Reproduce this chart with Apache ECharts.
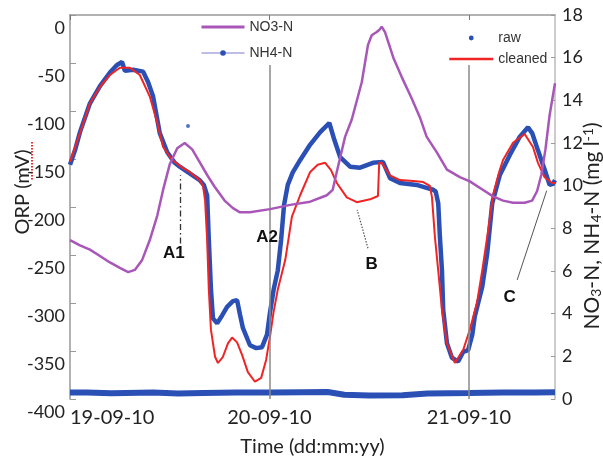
<!DOCTYPE html>
<html><head><meta charset="utf-8">
<script src="https://cdn.jsdelivr.net/npm/echarts@6/dist/echarts.min.js"></script>
<style>html,body{margin:0;padding:0;background:#fff}#c{width:603px;height:456px}</style>
</head><body><div id="c"></div>
<script>
// x values are hours since 19-09-10 00:00
const tickHours = [0, 24, 48];
const dateLabels = ['19-09-10', '20-09-10', '21-09-10'];
const xMaxHours = 58.35;

// ORP raw (mV)
const rawORP = [[0,-156],[0.6,-141],[1.2,-122],[2.4,-92],[3.6,-74],[4.8,-60],[5.65,-52],[6.26,-49],[6.6,-58],[7.6,-57],[8.8,-59],[9.4,-70],[10.0,-85],[10.8,-123],[11.7,-143],[12.6,-154],[13.2,-158],[14.4,-165],[15.6,-172],[16.1,-177],[16.5,-188],[16.7,-234],[16.96,-286],[17.2,-316],[17.7,-321],[18.3,-313],[18.9,-304],[19.6,-298],[20.1,-297],[20.45,-312],[20.8,-326],[21.65,-344],[22.4,-347],[23.1,-346],[23.7,-333],[24.06,-310],[24.5,-286],[25.0,-266],[25.4,-234],[25.75,-198],[26.2,-177],[26.8,-164],[27.7,-151],[28.9,-135],[30.1,-122],[31.2,-112.5],[31.8,-130],[32.5,-148],[33.7,-158],[34.9,-159],[36.45,-154],[37.65,-153],[38.5,-170],[39.7,-175],[41.7,-177],[42.9,-180],[43.7,-182],[44.0,-184],[44.3,-196],[44.5,-231],[44.75,-266],[44.9,-307],[45.35,-342],[45.95,-357],[46.7,-361],[47.3,-351],[47.9,-349],[48.4,-333],[48.7,-314],[49.6,-283],[50.2,-248],[50.8,-196],[51.7,-167],[52.9,-146],[54.1,-127],[55.1,-117],[55.6,-123],[56.3,-141],[57.1,-161],[57.7,-177],[58.1,-176],[58.35,-172]];
const rawOutlier = [[14.2,-115.6]];

// ORP cleaned (mV)
const cleanedORP = [[0,-153],[1.2,-123],[2.4,-92],[3.6,-75],[4.8,-62.5],[6.0,-55],[7.2,-55],[8.4,-62.5],[9.6,-85],[10.5,-112.5],[11.2,-137.5],[12.3,-151],[13.5,-159],[14.4,-163.5],[15.6,-172],[16.0,-178],[16.25,-193],[16.5,-234],[16.7,-286],[16.96,-328],[17.45,-356],[17.8,-362.5],[18.4,-356],[19.0,-342],[19.5,-336],[20.1,-341],[20.7,-354],[21.4,-372],[22.25,-382],[23.0,-378],[23.6,-359],[24.06,-335],[24.5,-309],[25.0,-286],[25.9,-255],[26.7,-210],[27.7,-187.5],[28.9,-163.5],[29.8,-156],[30.7,-154],[31.4,-161.5],[32.1,-175],[33.3,-190],[34.5,-195],[36.1,-192],[37.05,-188.5],[37.2,-154],[37.5,-154],[38.5,-167],[39.7,-172],[41.3,-173],[42.5,-174],[43.3,-178],[43.55,-190],[43.9,-231],[44.3,-266],[44.75,-307],[45.35,-342],[46.3,-362.5],[47.3,-349],[48.1,-328],[48.96,-300],[49.6,-266],[50.2,-231],[50.9,-187.5],[51.7,-161.5],[52.1,-151],[53.3,-133],[54.7,-124],[55.7,-137.5],[56.3,-154],[57.1,-169],[58.0,-175],[58.35,-175]];

// NO3-N (mg/l)
const no3N = [[0,7.45],[1.2,7.2],[2.4,7.0],[3.6,6.7],[4.8,6.4],[6.0,6.15],[7.0,5.95],[7.8,6.05],[8.66,6.5],[9.6,7.45],[10.5,8.6],[11.2,9.8],[12.0,11.0],[12.9,11.75],[13.8,12.0],[14.7,11.7],[15.6,11.1],[16.5,10.5],[17.4,9.95],[18.6,9.3],[19.6,8.95],[20.45,8.75],[21.65,8.75],[24.06,8.9],[26.5,9.1],[28.9,9.25],[30.9,9.55],[31.6,9.8],[32.1,10.65],[33.1,12.3],[33.9,13.1],[35.1,14.85],[35.85,16.6],[36.3,17.05],[36.9,17.2],[37.2,17.3],[37.5,17.45],[37.9,17.2],[38.9,16.0],[39.9,15.1],[41.1,14.1],[42.1,13.2],[42.9,12.3],[44.15,11.55],[45.35,10.75],[46.9,10.4],[48.1,10.2],[49.7,9.8],[50.9,9.5],[52.1,9.3],[53.3,9.2],[54.7,9.2],[55.6,9.3],[56.2,9.75],[56.7,10.5],[57.2,11.7],[57.7,13.3],[58.35,14.8]];

// NH4-N (mg/l)
const nh4N = [[0,0.3],[2,0.3],[5,0.27],[10,0.3],[13,0.26],[16,0.28],[20,0.3],[24,0.3],[28,0.32],[31,0.33],[33,0.2],[36,0.16],[40,0.18],[43,0.26],[48,0.28],[52,0.3],[56,0.3],[58.35,0.32]];

const FONT = 'Lato';
const chart = echarts.init(document.getElementById('c'), null, {renderer: 'canvas'});
const textDark = '#222';

chart.setOption({
  animation: false,
  backgroundColor: '#fff',
  grid: {left: 70, right: 48, top: 15, bottom: 57, containLabel: false, outerBoundsMode: 'none'},
  legend: [
    {
      orient: 'vertical', left: 195, top: 15, itemWidth: 43, itemHeight: 7, itemGap: 12,
      textStyle: {fontFamily: 'Liberation Sans', fontSize: 14, color: '#333', lineHeight: 14},
      data: [
        {name: 'NO3-N', itemStyle: {opacity: 0}, lineStyle: {color: '#a857b8', width: 3}},
        {name: 'NH4-N', lineStyle: {color: '#a9a6e0', width: 1.5}, itemStyle: {color: '#2b50b5'}}
      ]
    },
    {
      orient: 'vertical', left: 443, top: 26, itemWidth: 44, itemHeight: 6, itemGap: 7,
      textStyle: {fontFamily: 'Liberation Sans', fontSize: 14, color: '#333', lineHeight: 14},
      data: [
        {name: 'raw', lineStyle: {opacity: 0}, itemStyle: {color: '#2b50b5'}},
        {name: 'cleaned', itemStyle: {opacity: 0}, lineStyle: {color: '#f02424', width: 2.5}}
      ]
    }
  ],
  xAxis: {
    type: 'value', min: 0, max: xMaxHours, interval: 24,
    name: 'Time (dd:mm:yy)', nameLocation: 'middle', nameGap: 38, nameMoveOverlap: false,
    nameTextStyle: {fontFamily: FONT, fontSize: 20, color: textDark},
    axisLine: {show: true, lineStyle: {color: '#999', width: 1.5}},
    axisTick: {show: true, inside: false, length: 5, lineStyle: {color: '#777'}},
    splitLine: {show: false},
    axisLabel: {
      fontFamily: FONT, fontSize: 20, color: textDark, margin: 9,
      showMaxLabel: false, alignMinLabel: 'left',
      formatter: v => { const i = tickHours.indexOf(v); return i >= 0 ? dateLabels[i] : ''; }
    }
  },
  yAxis: [
    {
      type: 'value', min: -400, max: 0, interval: 50, position: 'left',
      name: 'ORP (mV)', nameLocation: 'middle', nameRotate: 90, nameGap: 37, nameMoveOverlap: false,
      nameTextStyle: {fontFamily: FONT, fontSize: 20, color: textDark, padding: [0, 0, 0, 30]},
      axisLine: {show: true, lineStyle: {color: '#999', width: 1.5}},
      axisTick: {show: true, inside: true, length: 6, lineStyle: {color: '#999'}},
      splitLine: {show: false},
      axisLabel: {fontFamily: FONT, fontSize: 18, color: textDark, margin: 5, verticalAlign: 'top', padding: [4, 0, 0, 0]}
    },
    {
      type: 'value', min: 0, max: 18, interval: 2, position: 'right',
      name: 'NO{s|3}-N, NH{s|4}-N (mg l{p|-1})', nameLocation: 'middle', nameRotate: 90, nameGap: 26, nameMoveOverlap: false,
      nameTextStyle: {
        fontFamily: FONT, fontSize: 21, color: textDark, padding: [0, 38, 0, 0],
        rich: {
          s: {fontFamily: FONT, fontSize: 14, color: textDark, padding: [8, 0, 0, 0]},
          p: {fontFamily: FONT, fontSize: 14, color: textDark, padding: [0, 0, 9, 0]}
        }
      },
      axisLine: {show: true, lineStyle: {color: '#bbb', width: 1.5}},
      axisTick: {show: true, inside: true, length: 4, lineStyle: {color: '#999'}},
      splitLine: {show: false},
      axisLabel: {fontFamily: FONT, fontSize: 18, color: textDark, margin: 7, padding: [4, 0, 0, 0]}
    }
  ],
  series: [
    {
      name: 'NH4-N', type: 'line', yAxisIndex: 1, data: nh4N,
      symbol: 'circle', showSymbol: false, smooth: false,
      lineStyle: {color: '#2b50b5', width: 6}, itemStyle: {color: '#2b50b5'}, z: 2
    },
    {
      name: 'raw', type: 'line', yAxisIndex: 0, data: rawORP,
      symbol: 'circle', showSymbol: false,
      lineStyle: {color: '#2b50b5', width: 4.5}, itemStyle: {color: '#2b50b5'}, z: 3,
      markLine: {
        silent: true, symbol: ['none', 'none'], label: {show: false},
        lineStyle: {color: '#8a8a8a', width: 1.5, type: 'solid'},
        data: tickHours.slice(1).map(h => [{coord: [h, -52]}, {coord: [h, -400]}])
      }
    },
    {
      name: 'raw', type: 'scatter', yAxisIndex: 0, data: rawOutlier,
      symbol: 'circle', symbolSize: 4, itemStyle: {color: '#2b50b5'}, z: 3
    },
    {
      name: 'cleaned', type: 'line', yAxisIndex: 0, data: cleanedORP,
      symbol: 'circle', showSymbol: false,
      lineStyle: {color: '#f02424', width: 2}, itemStyle: {color: '#f02424'}, z: 4,
      markLine: {
        silent: true, symbol: ['none', 'arrow'], symbolSize: [0, 10], label: {show: false},
        data: [
          [{coord: [13.23, -238], lineStyle: {color: '#333', width: 1.3, type: [6, 3, 1.5, 3]}}, {coord: [13.23, -167]}],
          [{coord: [35.85, -243], lineStyle: {color: '#555', width: 1.2, type: [1.5, 1.5]}}, {coord: [34.55, -203]}],
          [{coord: [53.8, -276], lineStyle: {color: '#555', width: 1, type: 'solid'}}, {coord: [57.35, -183]}]
        ]
      },
      markPoint: {
        silent: true, symbol: 'circle', symbolSize: 1, itemStyle: {color: 'rgba(0,0,0,0)'},
        label: {show: true, position: 'inside', formatter: '{b}', fontFamily: 'Liberation Sans', fontWeight: 'bold', fontSize: 17, color: '#111'},
        data: [
          {name: 'A1', coord: [12.5, -248]},
          {name: 'A2', coord: [23.7, -232]},
          {name: 'B', coord: [36.3, -260]},
          {name: 'C', coord: [52.9, -294]}
        ]
      }
    },
    {
      name: 'NO3-N', type: 'line', yAxisIndex: 1, data: no3N,
      symbol: 'circle', showSymbol: false,
      lineStyle: {color: '#a857b8', width: 2.5}, itemStyle: {color: '#a857b8'}, z: 5
    }
  ],
  graphic: [
    {type: 'line', silent: true, shape: {x1: 32, y1: 142, x2: 32, y2: 180},
     style: {stroke: '#e43030', lineWidth: 2, lineDash: [1.5, 1.5]}}
  ]
});
</script>
</body></html>
